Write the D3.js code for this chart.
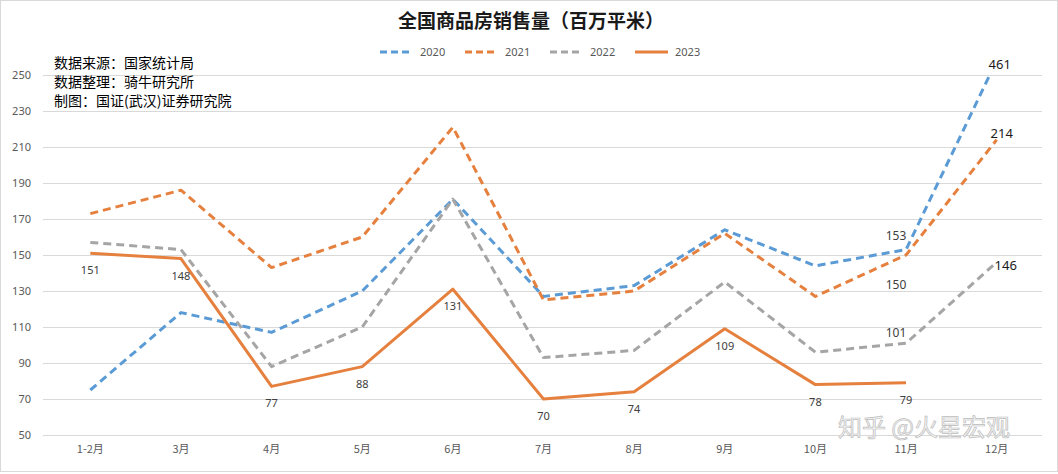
<!DOCTYPE html>
<html><head><meta charset="utf-8">
<script src="https://cdn.jsdelivr.net/npm/d3@7"></script>
<style>body{margin:0;background:#fff;}svg{display:block;font-family:"Noto Sans CJK SC","Noto Sans",sans-serif;}</style>
</head><body><svg id="c" width="1058" height="474"></svg>
<script>
const categories = ["1-2月","3月","4月","5月","6月","7月","8月","9月","10月","11月","12月"];
// plotted values (the 2020 Dec point is drawn at ~258 though its label reads 461)
const s2020 = [75,118,107,130,181,127,133,164,144,153,258];
const s2021 = [173,186,143,160,221,125,130,162,127,150,214];
const s2022 = [157,153,88,110,181,93,97,135,96,101,146];
const s2023 = [151,148,77,88,131,70,74,109,78,79,null];
// label texts shown at 11月 / 12月
const labels2020 = ["153","461"];
const labels2021 = ["150","214"];
const labels2022 = ["101","146"];
const seriesNames = ["2020","2021","2022","2023"];
const yTicks = [50,70,90,110,130,150,170,190,210,230,250];
const sourceLines = ["数据来源：国家统计局","数据整理：骑牛研究所","制图：国证(武汉)证券研究院"];

(function(){
const svg = d3.select("#c");
const W = 1058, H = 474;
const pL = 45, pR = 1042, pT = 75, pB = 435;

svg.append("rect").attr("x",0.5).attr("y",0.5).attr("width",W-1).attr("height",H-3)
  .attr("fill","#fff").attr("stroke","#d9d9d9");

const x = d3.scaleBand().domain(categories).range([pL,pR]);
const y = d3.scaleLinear().domain([50,250]).range([pB,pT]);
const cx = c => x(c) + x.bandwidth()/2;

// gridlines
svg.append("g").selectAll("line").data(yTicks).join("line")
  .attr("x1",pL-2).attr("x2",pR).attr("y1",d=>Math.round(y(d))+0.5).attr("y2",d=>Math.round(y(d))+0.5)
  .attr("stroke","#d9d9d9").attr("stroke-width",1);

// y labels
const yAxis = d3.axisLeft(y).tickValues(yTicks).tickSize(0).tickPadding(0);
const ga = svg.append("g").attr("transform",`translate(${pL-14},0)`).call(yAxis);
ga.select(".domain").remove();
ga.selectAll("text").attr("fill","#595959").style("font-size","11px").attr("font-family","'Noto Sans',sans-serif");

// x labels
const xAxis = d3.axisBottom(x).tickSize(0).tickPadding(0);
const gx = svg.append("g").attr("transform",`translate(0,${pB+10})`).call(xAxis);
gx.select(".domain").remove();
gx.selectAll("text").attr("fill","#595959").style("font-size","11px").attr("font-family","'Noto Sans CJK SC',sans-serif");

// watermark
svg.append("text").attr("x",924).attr("y",436).attr("text-anchor","middle")
  .style("font-size","24px").attr("fill","#f4f4f4").attr("stroke","#bdbdbd").attr("stroke-width",0.7)
  .text("知乎 @火星宏观");

// clip
svg.append("clipPath").attr("id","clip").append("rect")
  .attr("x",pL).attr("y",pT-2).attr("width",pR-pL).attr("height",pB-pT+4);

const series = [
  {name:"2020", data:s2020, color:"#5B9BD5", dash:"8,5"},
  {name:"2021", data:s2021, color:"#E5803E", dash:"8,5"},
  {name:"2022", data:s2022, color:"#A5A5A5", dash:"8,5"},
  {name:"2023", data:s2023, color:"#E5803E", dash:null}
];
const line = d3.line().defined(d=>d.v!=null).x(d=>cx(d.c)).y(d=>y(d.v));
const gl = svg.append("g").attr("clip-path","url(#clip)");
series.forEach(s=>{
  gl.append("path").datum(categories.map((c,i)=>({c,v:s.data[i]})))
    .attr("d",line).attr("fill","none").attr("stroke",s.color).attr("stroke-width",3)
    .attr("stroke-dasharray",s.dash).attr("stroke-linejoin","round");
});

// 2023 labels below points
svg.append("g").selectAll("text").data(categories.map((c,i)=>({c,v:s2023[i]})).filter(d=>d.v!=null))
  .join("text").attr("x",d=>cx(d.c)).attr("y",d=>y(d.v)+21).attr("text-anchor","middle")
  .attr("fill","#404040").style("font-size","11px").attr("font-family","'Noto Sans',sans-serif").text(d=>d.v);

// special labels at 11月 & 12月
const specials = [
  {c:"11月", v:s2020[9], t:labels2020[0], dx:-10, dy:-10, fs:12},
  {c:"11月", v:s2021[9], t:labels2021[0], dx:-10, dy:34, fs:12},
  {c:"11月", v:s2022[9], t:labels2022[0], dx:-10, dy:-6, fs:12},
  {c:"12月", v:s2020[10], t:labels2020[1], dx:3, dy:-6, fs:13},
  {c:"12月", v:s2021[10], t:labels2021[1], dx:5, dy:-2, fs:13},
  {c:"12月", v:s2022[10], t:labels2022[1], dx:9, dy:8, fs:13}
];
svg.append("g").selectAll("text").data(specials).join("text")
  .attr("x",d=>cx(d.c)+d.dx)
  .attr("y",d=>Math.max(y(d.v),pT)+d.dy)
  .attr("text-anchor","middle").attr("fill",d=>d.fs===13?"#1a1a1a":"#404040")
  .style("font-size",d=>d.fs+"px").attr("font-family","'Noto Sans',sans-serif").text(d=>d.t);

// title
svg.append("text").attr("x",531).attr("y",28).attr("text-anchor","middle")
  .style("font-size","19px").style("font-weight","bold").attr("fill","#1a1a1a")
  .text("全国商品房销售量（百万平米）");

// legend
const lg = svg.append("g");
const legX = [380,465,550,635];
series.forEach((s,i)=>{
  lg.append("line").attr("x1",legX[i]).attr("x2",legX[i]+33).attr("y1",52).attr("y2",52)
    .attr("stroke",s.color).attr("stroke-width",3).attr("stroke-dasharray",s.dash?"7,4":null);
  lg.append("text").attr("x",legX[i]+40).attr("y",56).attr("fill","#595959")
    .style("font-size","11px").attr("font-family","'Noto Sans',sans-serif").text(s.name);
});

// source text
svg.append("g").selectAll("text").data(sourceLines).join("text")
  .attr("x",54).attr("y",(d,i)=>68+i*19).attr("fill","#000").style("font-size","14px").text(d=>d);
})();
</script></body></html>
